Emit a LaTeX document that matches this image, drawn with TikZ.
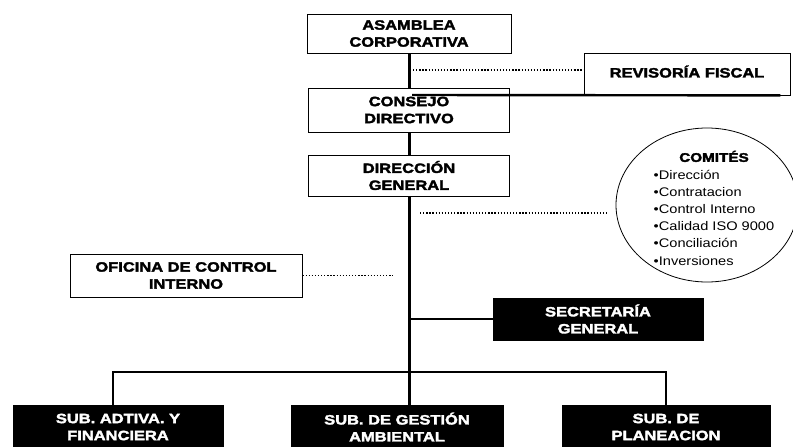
\documentclass[tikz,border=0pt]{standalone}
\usepackage{fontspec}
\setmainfont{Liberation Sans}[FakeStretch=1.17]
\newfontfamily\heavyfont{Liberation Sans}[FakeStretch=1.22,FakeBold=2.5]
\usetikzlibrary{shapes.geometric}

\begin{document}
\begin{tikzpicture}[x=1pt, y=-1pt,
    whitebox/.style={draw, line width=0.8pt, fill=white, align=center, inner sep=0pt,
      font=\heavyfont\bfseries\fontsize{13.5}{17}\selectfont},
    blackbox/.style={whitebox, fill=black, text=white},
    spine/.style={line width=3pt},
    dots/.style={line width=1.2pt, dash pattern=on 1.3pt off 1.8pt}]

      % Frame of the picture
      \useasboundingbox (0,0) rectangle (793,447);
      \clip (0,0) rectangle (793,447);
      \fill[white] (0,0) rectangle (793,447);

      % Define box height
      \def\boxh{42pt}

      % Upper boxes
      \node[whitebox, minimum width=204pt, minimum height=39pt] (asamblea) at (409,33.5) {ASAMBLEA\\CORPORATIVA};
      \node[whitebox, minimum width=206pt, minimum height=\boxh] (revisoria) at (687,74) {\raisebox{5pt}{REVISORÍA FISCAL}};
      \node[whitebox, minimum width=201pt, minimum height=44pt] (consejo) at (409,110) {CONSEJO\\DIRECTIVO};
      \node[whitebox, minimum width=201pt, minimum height=41pt] (direccion) at (409,175.5) {DIRECCIÓN\\GENERAL};
      \node[whitebox, minimum width=232pt, minimum height=43pt] (oficina) at (186,275.5) {OFICINA DE CONTROL\\INTERNO};

      % Committees
      \node[ellipse, draw, line width=0.8pt, minimum width=182pt, minimum height=154pt] (comites) at (707,205) {};
      \node[font=\fontsize{12.5}{17.2}\selectfont, inner sep=0pt] (comitestxt) at (714,210) {%
        \begin{tabular}{@{}l@{}}
          \multicolumn{1}{@{}c@{}}{\heavyfont\bfseries COMITÉS}\\
          •Dirección\\
          •Contratacion\\
          •Control Interno\\
          •Calidad ISO 9000\\
          •Conciliación\\
          •Inversiones
        \end{tabular}};

      % Dark boxes
      \node[blackbox, minimum width=210pt, minimum height=\boxh] (secretaria) at (598,319) {SECRETARÍA\\GENERAL};
      \node[blackbox, minimum width=210pt, minimum height=44pt] (adtiva) at (118,427) {SUB. ADTIVA. Y\\FINANCIERA};
      \node[blackbox, minimum width=212pt, minimum height=44pt] (gestion) at (397,427) {SUB. DE GESTIÓN\\AMBIENTAL};
      \node[blackbox, minimum width=208pt, minimum height=44pt] (planeacion) at (666,427) {SUB. DE\\PLANEACION};

      % Points on the main line
      \coordinate (rv) at (412,95);
      \coordinate (bus) at (409,372);
      \coordinate (d1) at (413,70);
      \coordinate (d2) at (420,213);
      \coordinate (d3) at (393,275.5);

      % Main line
      \draw[spine] (asamblea) -- (consejo);
      \draw[spine] (consejo) -- (direccion);
      \draw[spine] (direccion.south) -- (direccion.south |- gestion.north);
      \draw[line width=2.4pt] (rv) -- ([xshift=-10pt]revisoria.south east);
      \draw[line width=1.8pt] (secretaria.west) -- (secretaria.west -| direccion.south);
      \draw[line width=2.4pt] ([xshift=-5pt]adtiva.north) |- (bus) -| (planeacion.north);

      % Dotted links
      \draw[dots] (d1) -- (d1 -| revisoria.west);
      \draw[dots] (d2) -- ([xshift=-9pt]d2 -| comites.west);
      \draw[dots] (oficina.east) -- (d3);

    \end{tikzpicture}
\end{document}
